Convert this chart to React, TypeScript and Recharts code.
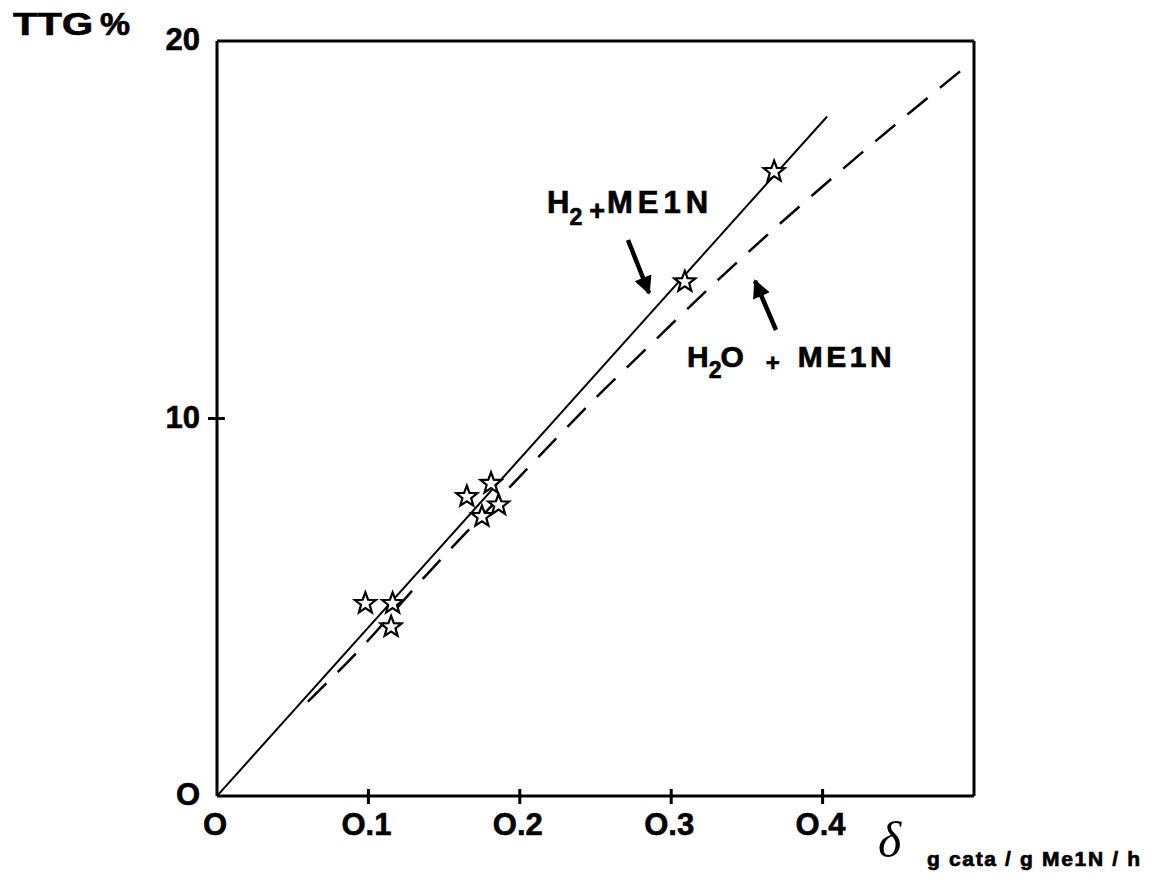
import React from "react";
import {
  ComposedChart,
  Line,
  Scatter,
  XAxis,
  YAxis,
  ReferenceLine,
} from "recharts";

// measured points (δ, TTG%)
const stars = [
  { x: 0.098, y: 5.1 },
  { x: 0.116, y: 5.1 },
  { x: 0.115, y: 4.48 },
  { x: 0.165, y: 7.93 },
  { x: 0.175, y: 7.4 },
  { x: 0.181, y: 8.28 },
  { x: 0.186, y: 7.71 },
  { x: 0.309, y: 13.62 },
  { x: 0.368, y: 16.54 },
];

// H2 + ME1N (solid)
const h2Line = [
  { x: 0, y: 0 },
  { x: 0.403, y: 18.0 },
];

// H2O + ME1N (dashed)
const h2oLine = [
  { x: 0.06, y: 2.5 },
  { x: 0.094, y: 3.87 },
  { x: 0.137, y: 5.8 },
  { x: 0.199, y: 8.42 },
  { x: 0.225, y: 9.51 },
  { x: 0.254, y: 10.7 },
  { x: 0.28, y: 11.71 },
  { x: 0.329, y: 13.6 },
  { x: 0.4125, y: 16.58 },
  { x: 0.497, y: 19.4 },
];

const xTicks = [0, 0.1, 0.2, 0.3, 0.4];
const xTickLabels = ["O", "O.1", "O.2", "O.3", "O.4"];
const yTicks = [0, 10, 20];
const yTickLabels = ["O", "10", "20"];

const FONT = "'Liberation Sans', Arial, sans-serif";

function Star({ cx, cy }: { cx?: number; cy?: number }) {
  if (cx == null || cy == null) return null;
  const R = 11;
  const r = 4.6;
  const pts: string[] = [];
  for (let i = 0; i < 10; i++) {
    const a = -Math.PI / 2 + (i * Math.PI) / 5;
    const rad = i % 2 === 0 ? R : r;
    pts.push(`${cx + rad * Math.cos(a)},${cy + rad * Math.sin(a)}`);
  }
  return <polygon points={pts.join(" ")} fill="#fff" stroke="#000" strokeWidth={2.2} />;
}

function XTick(props: any) {
  const { x, y, payload } = props;
  const i = xTicks.indexOf(payload.value);
  return (
    <g>
      {payload.value !== 0 && <line x1={x} x2={x} y1={y - 7} y2={y + 8} stroke="#000" strokeWidth={3} />}
      <text
        x={x - 2}
        y={y + 39}
        textAnchor="middle"
        fontFamily={FONT}
        fontWeight="bold"
        fontSize={31}
        fill="#000"
        stroke="#000"
        strokeWidth={0.6}
      >
        {xTickLabels[i]}
      </text>
    </g>
  );
}

function YTick(props: any) {
  const { x, y, payload } = props;
  const i = yTicks.indexOf(payload.value);
  return (
    <g>
      {payload.value === 10 && <line x1={x - 9} x2={x + 8} y1={y} y2={y} stroke="#000" strokeWidth={3} />}
      <text
        x={x - 17}
        y={y + 9}
        textAnchor="end"
        fontFamily={FONT}
        fontWeight="bold"
        fontSize={31}
        fill="#000"
        stroke="#000"
        strokeWidth={0.6}
      >
        {yTickLabels[i]}
      </text>
    </g>
  );
}

function Notes() {
  return (
    <svg width={1159} height={883} style={{ position: "absolute", left: 0, top: 0, pointerEvents: "none" }}>
      <defs>
        <marker id="ah" viewBox="0 0 10 10" refX="9" refY="5" markerWidth="4.5" markerHeight="4" orient="auto">
          <path d="M0,0 L10,5 L0,10 z" fill="#000" />
        </marker>
      </defs>
      <g fontFamily={FONT} fontWeight="bold" fill="#000" stroke="#000" strokeWidth={0.7}>
        <text x={13} y={35} fontSize={32} textLength={80} lengthAdjust="spacingAndGlyphs">TTG</text>
        <text x={100} y={35} fontSize={32} textLength={30} lengthAdjust="spacingAndGlyphs">%</text>

        <text x={547} y={213} fontSize={31}>
          H
          <tspan fontSize={23} dy={12}>2</tspan>
          <tspan fontSize={27} dx={7} dy={-5}>+</tspan>
          <tspan fontSize={31} dx={2} dy={-7} letterSpacing={5}>ME1N</tspan>
        </text>

        <text x={687} y={367} fontSize={30}>
          H
          <tspan fontSize={23} dy={11}>2</tspan>
          <tspan fontSize={30} dx={-1} dy={-11}>O</tspan>
          <tspan fontSize={24} dx={22} dy={4}>+</tspan>
          <tspan fontSize={30} dx={18} dy={-4} letterSpacing={3.5}>ME1N</tspan>
        </text>

        <text x={927} y={866} fontSize={21} textLength={213} lengthAdjust="spacing">g cata / g Me1N / h</text>
      </g>
      <text x={878} y={857} fontFamily="'Liberation Serif', 'DejaVu Serif', serif" fontStyle="italic" fontSize={50} fill="#000">
        δ
      </text>
      <line x1={628} y1={240} x2={649} y2={293} stroke="#000" strokeWidth={4.5} markerEnd="url(#ah)" />
      <line x1={776} y1={330} x2={755} y2={281} stroke="#000" strokeWidth={4.5} markerEnd="url(#ah)" />
    </svg>
  );
}

export default function App() {
  return (
    <div style={{ position: "relative", width: 1159, height: 883, background: "#fff" }}>
      <style>{`body{margin:0}`}</style>
      <ComposedChart
        width={1159}
        height={883}
        margin={{ top: 41, right: 185, bottom: 47, left: 157 }}
      >
        <XAxis
          type="number"
          dataKey="x"
          domain={[0, 0.5]}
          ticks={xTicks}
          tick={<XTick />}
          tickLine={false}
          tickSize={0}
          tickMargin={0}
          height={40}
          axisLine={{ stroke: "#000", strokeWidth: 3 }}
          allowDataOverflow
        />
        <YAxis
          type="number"
          dataKey="y"
          domain={[0, 20]}
          ticks={yTicks}
          tick={<YTick />}
          tickLine={false}
          tickSize={0}
          tickMargin={0}
          width={60}
          axisLine={{ stroke: "#000", strokeWidth: 3 }}
          allowDataOverflow
        />
        <ReferenceLine y={20} stroke="#000" strokeWidth={3} />
        <ReferenceLine x={0.5} stroke="#000" strokeWidth={3} />
        <Line
          data={h2Line}
          dataKey="y"
          type="linear"
          stroke="#000"
          strokeWidth={2}
          dot={false}
          isAnimationActive={false}
        />
        <Line
          data={h2oLine}
          dataKey="y"
          type="monotone"
          stroke="#000"
          strokeWidth={2.5}
          strokeDasharray="26 16"
          dot={false}
          isAnimationActive={false}
        />
        <Scatter data={stars} dataKey="y" shape={<Star />} isAnimationActive={false} />
      </ComposedChart>
      <Notes />
    </div>
  );
}
